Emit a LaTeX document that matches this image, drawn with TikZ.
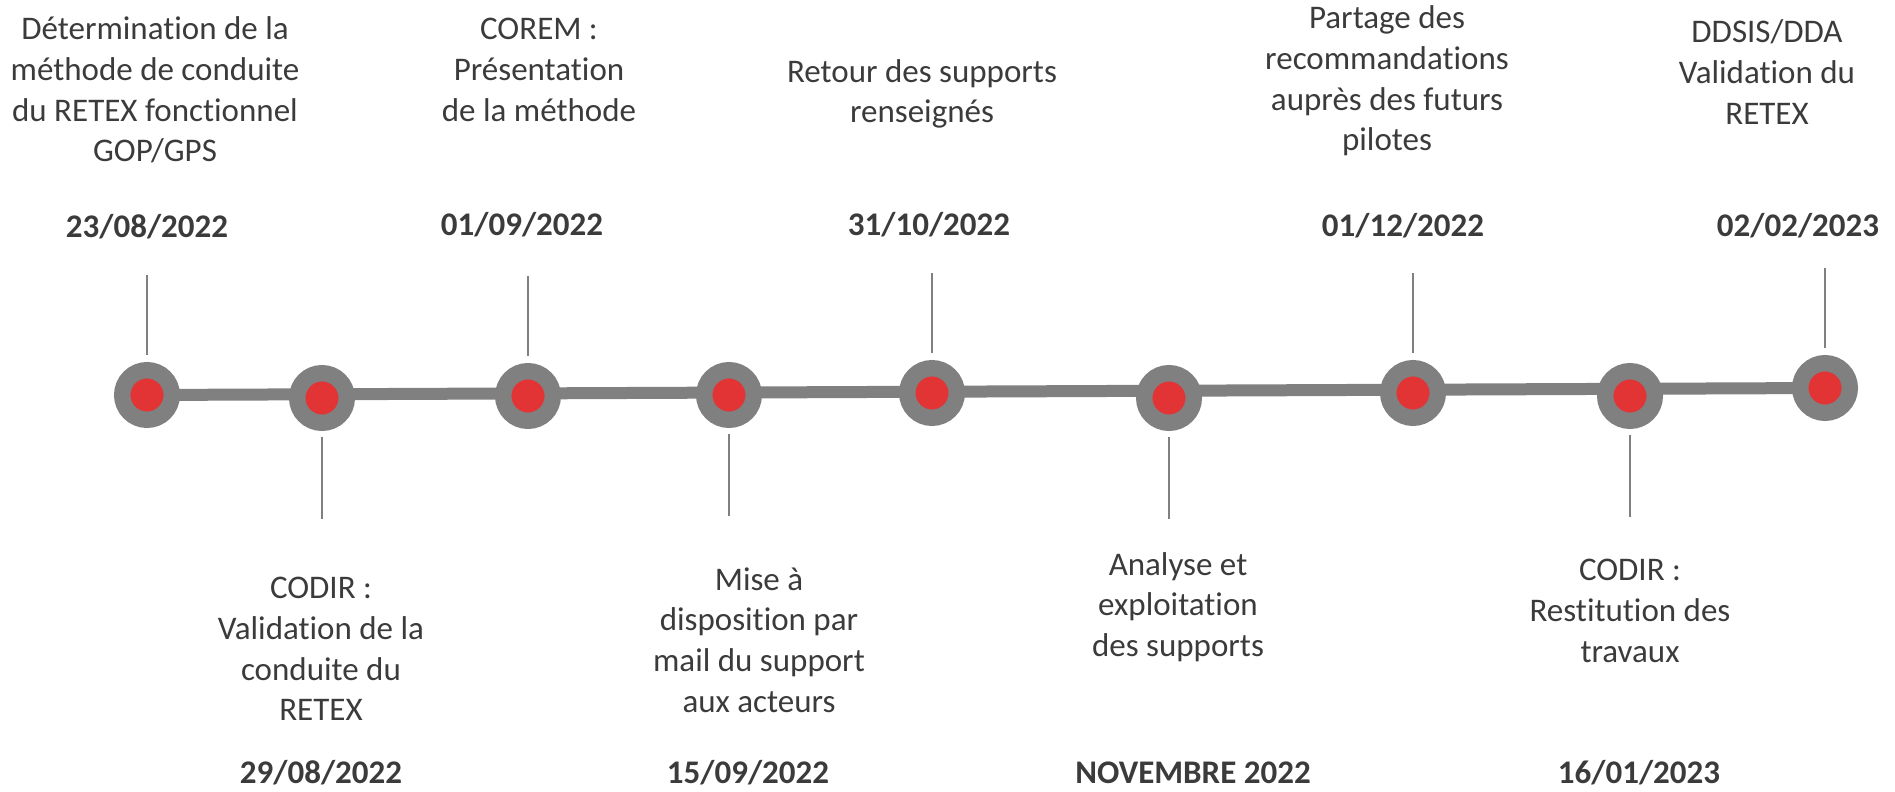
\documentclass[tikz,border=0pt]{standalone}
\usepackage{fontspec}
\setmainfont{Carlito}[RawFeature={-liga;-clig;-calt;-dlig}]
\usetikzlibrary{backgrounds}
\definecolor{rougejalon}{HTML}{E23335}
\definecolor{grisaxe}{HTML}{808080}
\definecolor{gristexte}{HTML}{3B3B3B}

\begin{document}
\begin{tikzpicture}[
      x=0.5pt, y=-0.5pt,
      every node/.style={font=\fontsize{16.5}{20.3}\selectfont, text=gristexte, align=center},
      jalon/.style={circle, fill=rougejalon, draw=grisaxe, line width=8.2pt, minimum size=24.8pt, inner sep=0pt},
      datejalon/.style={font=\fontsize{16.5}{20.3}\selectfont\bfseries},
      trait/.style={draw=grisaxe, line width=1pt},
      axe/.style={draw=grisaxe, line width=6pt}
    ]
    \useasboundingbox (0,0) rectangle (1895,792);
    % Jalons
    \node[jalon] (j1) at (147,395) {};
    \node[jalon] (j2) at (322,398) {};
    \node[jalon] (j3) at (528,396) {};
    \node[jalon] (j4) at (729,395) {};
    \node[jalon] (j5) at (932,393) {};
    \node[jalon] (j6) at (1169,398) {};
    \node[jalon] (j7) at (1413,393) {};
    \node[jalon] (j8) at (1630,396) {};
    \node[jalon] (j9) at (1825,388) {};
    \begin{scope}[on background layer]
      \draw[axe] (j1.center) -- (j9.center);
    \end{scope}
    % Traits vers le haut
    \draw[trait, shorten <=3.5pt] (j1.north) -- ++(0,-87) coordinate (h1);
    \draw[trait, shorten <=3.5pt] (j3.north) -- ++(0,-87) coordinate (h3);
    \draw[trait, shorten <=3.5pt] (j5.north) -- ++(0,-87) coordinate (h5);
    \draw[trait, shorten <=3.5pt] (j7.north) -- ++(0,-87) coordinate (h7);
    \draw[trait, shorten <=3.5pt] (j9.north) -- ++(0,-87) coordinate (h9);
    % Traits vers le bas
    \draw[trait, shorten <=3pt] (j2.south) -- ++(0,88) coordinate (b2);
    \draw[trait, shorten <=3pt] (j4.south) -- ++(0,88) coordinate (b4);
    \draw[trait, shorten <=3pt] (j6.south) -- ++(0,88) coordinate (b6);
    \draw[trait, shorten <=3pt] (j8.south) -- ++(0,88) coordinate (b8);
    % Dates
    \node[datejalon] (d1) at (147,227) {23/08/2022};
    \node[datejalon] (d3) at (522,225) {01/09/2022};
    \node[datejalon] (d5) at (929,225) {31/10/2022};
    \node[datejalon] (d7) at (1403,226) {01/12/2022};
    \node[datejalon] (d9) at (1798,226) {02/02/2023};
    \node[datejalon] (d2) at (321,773) {29/08/2022};
    \node[datejalon] (d4) at (748,773) {15/09/2022};
    \node[datejalon] (d6) at (1193,773) {NOVEMBRE 2022};
    \node[datejalon] (d8) at (1639,773) {16/01/2023};
    % Textes
    \node (t1) at (155,90) {Détermination de la\\méthode de conduite\\du RETEX fonctionnel\\GOP/GPS};
    \node (t3) at (539,70) {COREM :\\Présentation\\de la méthode};
    \node (t5) at (922,94) {Retour des supports\\renseignés};
    \node (t7) at (1387,81) {Partage des\\recommandations\\auprès des futurs\\pilotes};
    \node (t9) at (1767,72) {DDSIS/DDA\\Validation du\\RETEX};
    \node (t2) at (321,649) {CODIR :\\Validation de la\\conduite du\\RETEX};
    \node (t4) at (759,640) {Mise à\\disposition par\\mail du support\\aux acteurs};
    \node (t6) at (1178,607) {Analyse et\\exploitation\\des supports};
    \node (t8) at (1630,611) {CODIR :\\Restitution des\\travaux};
  \end{tikzpicture}
\end{document}
